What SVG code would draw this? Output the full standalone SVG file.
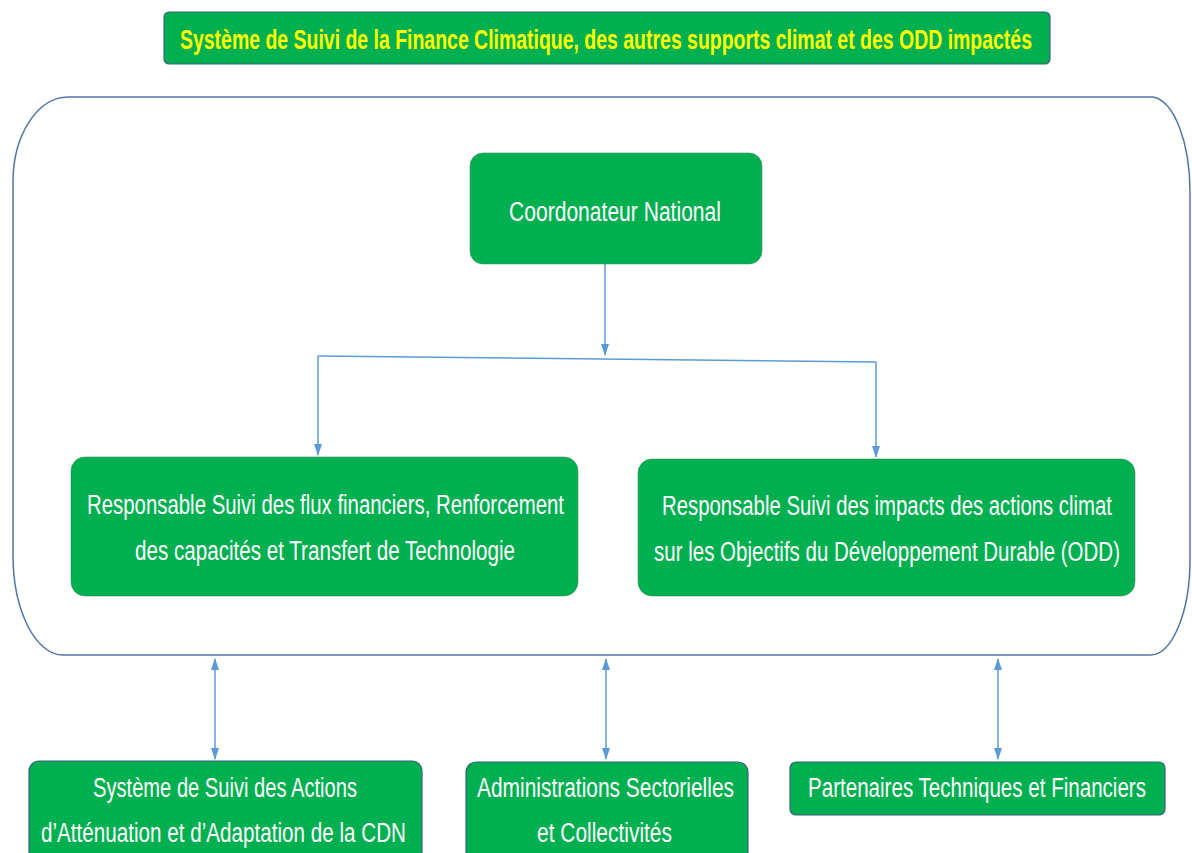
<svg xmlns="http://www.w3.org/2000/svg" width="1192" height="853" viewBox="0 0 1192 853">
  <style>
    .box { fill: #00B050; stroke: #2f7f5a; stroke-width: 1; stroke-opacity: 0.5; }
    .boxb { fill: #00B050; stroke: #3d5f80; stroke-width: 1.2; }
    .lbl { font-family: "Liberation Sans Narrow", "Liberation Sans", "DejaVu Sans Condensed", sans-serif; font-size: 27px; fill: #ffffff; }
    .ttl { font-family: "Liberation Sans Narrow", "Liberation Sans", sans-serif; font-size: 28px; font-weight: bold; fill: #FFFF00; }
    .conn { fill: none; stroke: #5B9BD5; stroke-width: 1.5; }
    .frame { fill: none; stroke: #4F76A3; stroke-width: 1.5; }
  </style>
  <defs>
    <marker id="arrowEnd" viewBox="0 0 12 8" refX="11" refY="4" markerWidth="12" markerHeight="8" markerUnits="userSpaceOnUse" orient="auto">
      <path d="M0,0 L12,4 L0,8 Z" fill="#5B9BD5"/>
    </marker>
    <marker id="arrowStart" viewBox="0 0 12 8" refX="1" refY="4" markerWidth="12" markerHeight="8" markerUnits="userSpaceOnUse" orient="auto">
      <path d="M12,0 L0,4 L12,8 Z" fill="#5B9BD5"/>
    </marker>
  </defs>
  <rect width="1192" height="853" fill="#ffffff"/>

  <!-- title banner -->
  <g id="title">
    <rect class="boxb" x="164" y="12" width="886" height="52" rx="5"/>
    <text class="ttl" x="180" y="49" textLength="852" lengthAdjust="spacingAndGlyphs">Système de Suivi de la Finance Climatique, des autres supports climat et des ODD impactés</text>
  </g>

  <!-- outer frame around the national team -->
  <g id="frame">
    <path class="frame" d="M68,97 H1153 A40,95 0 0 1 1190,192 V560 A40,95 0 0 1 1150,655 H63 A50,100 0 0 1 13,555 V182 A55,85 0 0 1 68,97 Z"/>
  </g>

  <!-- connectors -->
  <g id="connectors">
    <path class="conn" d="M605,264 V355" marker-end="url(#arrowEnd)"/>
    <path class="conn" d="M318,356 L876,362"/>
    <path class="conn" d="M318,356 V455" marker-end="url(#arrowEnd)"/>
    <path class="conn" d="M876,362 V457" marker-end="url(#arrowEnd)"/>
    <path class="conn" d="M215,659 V759" marker-start="url(#arrowStart)" marker-end="url(#arrowEnd)"/>
    <path class="conn" d="M606,659 V759" marker-start="url(#arrowStart)" marker-end="url(#arrowEnd)"/>
    <path class="conn" d="M998,659 V759" marker-start="url(#arrowStart)" marker-end="url(#arrowEnd)"/>
  </g>

  <g id="coordonateur">
    <rect class="box" x="470" y="153" width="292" height="111" rx="13"/>
    <text class="lbl" x="509" y="221" font-size="29" textLength="212" lengthAdjust="spacingAndGlyphs">Coordonateur National</text>
  </g>

  <g id="resp-flux">
    <rect class="box" x="71" y="457" width="507" height="139" rx="14"/>
    <text class="lbl" x="87" y="514" textLength="477" lengthAdjust="spacingAndGlyphs">Responsable Suivi des flux financiers, Renforcement</text>
    <text class="lbl" x="135" y="560" textLength="380" lengthAdjust="spacingAndGlyphs">des capacités et Transfert de Technologie</text>
  </g>

  <g id="resp-odd">
    <rect class="box" x="638" y="459" width="497" height="137" rx="14"/>
    <text class="lbl" x="662" y="515" textLength="450" lengthAdjust="spacingAndGlyphs">Responsable Suivi des impacts des actions climat</text>
    <text class="lbl" x="654" y="561" textLength="466" lengthAdjust="spacingAndGlyphs">sur les Objectifs du Développement Durable (ODD)</text>
  </g>

  <g id="suivi-cdn">
    <rect class="boxb" x="29" y="761" width="393" height="110" rx="10"/>
    <text class="lbl" x="93" y="797" textLength="264" lengthAdjust="spacingAndGlyphs">Système de Suivi des Actions</text>
    <text class="lbl" x="41" y="842" textLength="365" lengthAdjust="spacingAndGlyphs">d’Atténuation et d’Adaptation de la CDN</text>
  </g>

  <g id="administrations">
    <rect class="boxb" x="466" y="762" width="282" height="110" rx="10"/>
    <text class="lbl" x="477" y="797" textLength="257" lengthAdjust="spacingAndGlyphs">Administrations Sectorielles</text>
    <text class="lbl" x="537" y="842" textLength="135" lengthAdjust="spacingAndGlyphs">et Collectivités</text>
  </g>

  <g id="partenaires">
    <rect class="boxb" x="790" y="762" width="375" height="53" rx="6"/>
    <text class="lbl" x="808" y="797" textLength="338" lengthAdjust="spacingAndGlyphs">Partenaires Techniques et Financiers</text>
  </g>
</svg>
